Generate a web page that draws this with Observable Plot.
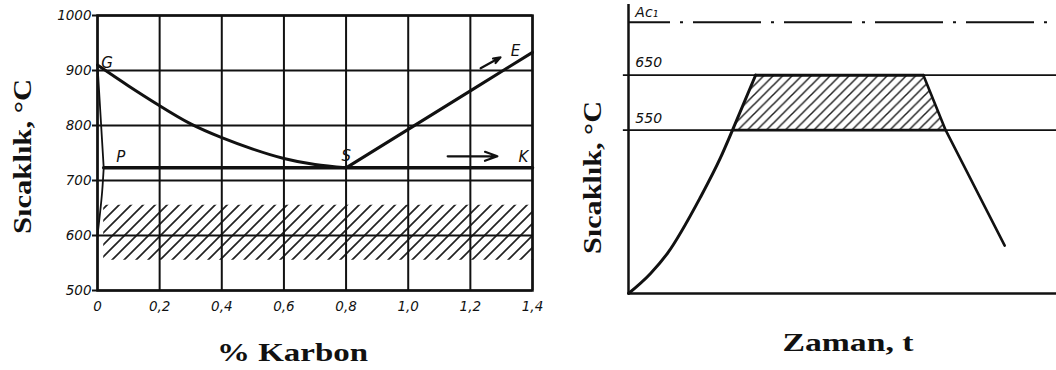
<!DOCTYPE html>
<html><head><meta charset="utf-8">
<script src="https://cdn.jsdelivr.net/npm/d3@7"></script>
<script src="https://cdn.jsdelivr.net/npm/@observablehq/plot@0.6"></script>
<style>
body{margin:0;background:#fff;}
#wrap{display:flex;width:1056px;height:370px;overflow:hidden;background:#fff;}
</style></head><body><div id="wrap"></div>
<script>
// ---------- Left chart: Fe–C diagram (steel part) ----------
const carbonTicks = [0, 0.2, 0.4, 0.6, 0.8, 1.0, 1.2, 1.4];
const carbonTickLabels = ["0", "0,2", "0,4", "0,6", "0,8", "1,0", "1,2", "1,4"];
const tempTicks = [500, 600, 700, 800, 900, 1000];
const gsCarbon = [0, 0.1, 0.2, 0.3, 0.4, 0.5, 0.6, 0.7, 0.8];
const gsTemp = [910, 872, 836, 803, 778, 757, 740, 729, 723];
const seCarbon = [0.8, 1.0, 1.2, 1.4];
const seTemp = [723, 793, 863, 933];
const gpCarbon = [0, 0.02];
const gpTemp = [910, 723];
const pqCarbon = [0.02, 0.015, 0.008, 0];
const pqTemp = [723, 680, 640, 600];
const pskCarbon = [0.02, 1.4];
const pskTemp = [723, 723];
const bandCarbon = [0.02, 1.4];
const bandTemp = [555, 655];
const pointLabels = ["G", "P", "S", "K", "E"];
const pointCarbon = [0.012, 0.06, 0.785, 1.355, 1.33];
const pointTemp = [914, 742, 745, 742, 936];
const arrowCarbon1 = [1.127, 1.233];
const arrowTemp1 = [744, 904];
const arrowCarbon2 = [1.287, 1.297];
const arrowTemp2 = [744, 924];

// ---------- Right chart: tempering cycle ----------
const timeHeat = [0, 0.51, 0.91, 1.68, 2.15, 2.43, 2.97];
const tempHeat = [253, 289, 326, 428, 500, 550, 650];
const timeHold = [2.97, 6.89];
const tempHold = [650, 650];
const timeCool = [6.89, 7.41, 8.79];
const tempCool = [650, 550, 340];
const levelTemps = [650, 550];
const ac1Temp = 746;
const levelLabels = ["Ac₁", "650", "550"];
const levelLabelTemp = [764, 673, 571];
const hatchTemp = [550, 650];
const hatchTime1 = [2.43, 2.97];
const hatchTime2 = [7.41, 6.89];

const ink = "#111";
const tickFont = {fontFamily: "DejaVu Sans", fontStyle: "italic", fontSize: 13.5};
const titleFont = {fontFamily: "Liberation Serif", fontWeight: "bold", fontSize: 25, fill: ink};

const zip = (xs, ys) => xs.map((x, i) => ({x, y: ys[i]}));

// ---- left plot
const left = Plot.plot({
  width: 545, height: 370,
  marginLeft: 97, marginRight: 13, marginTop: 15, marginBottom: 80,
  style: {background: "#fff", color: ink},
  x: {domain: [0, 1.4]},
  y: {domain: [500, 1000]},
  marks: [
    Plot.rect([{x1: bandCarbon[0], x2: bandCarbon[1], y1: bandTemp[0], y2: bandTemp[1]}],
      {x1: "x1", x2: "x2", y1: "y1", y2: "y2", fill: "url(#hatchL)"}),
    Plot.gridX(carbonTicks, {stroke: ink, strokeOpacity: 1, strokeWidth: 2}),
    Plot.gridY(tempTicks, {stroke: ink, strokeOpacity: 1, strokeWidth: 2}),
    Plot.frame({stroke: ink, strokeWidth: 2.5}),
    Plot.line(zip(pskCarbon, pskTemp), {x: "x", y: "y", stroke: ink, strokeWidth: 3.5}),
    Plot.line(zip(gsCarbon, gsTemp), {x: "x", y: "y", stroke: ink, strokeWidth: 3, curve: "natural"}),
    Plot.line(zip(seCarbon, seTemp), {x: "x", y: "y", stroke: ink, strokeWidth: 3}),
    Plot.line(zip(gpCarbon, gpTemp), {x: "x", y: "y", stroke: ink, strokeWidth: 1.8}),
    Plot.line(zip(pqCarbon, pqTemp), {x: "x", y: "y", stroke: ink, strokeWidth: 1.8, curve: "natural"}),
    Plot.arrow(arrowCarbon1.map((c, i) => ({x1: c, y1: arrowTemp1[i], x2: arrowCarbon2[i], y2: arrowTemp2[i]})),
      {x1: "x1", y1: "y1", x2: "x2", y2: "y2", stroke: ink, strokeWidth: 2.2, headLength: 9, headAngle: 40}),
    Plot.text(pointLabels.map((t, i) => ({t, x: pointCarbon[i], y: pointTemp[i]})),
      {x: "x", y: "y", text: "t", textAnchor: "start", fill: ink, ...tickFont, fontSize: 15}),
    Plot.axisX(carbonTicks, {tickSize: 0, tickPadding: 11, tickFormat: d => carbonTickLabels[carbonTicks.indexOf(d)], fill: ink, ...tickFont}),
    Plot.axisY(tempTicks, {tickSize: 5, tickPadding: 1, tickFormat: d => String(d), stroke: ink, strokeWidth: 2, fill: ink, ...tickFont}),
    Plot.text(["Sıcaklık, °C"], {frameAnchor: "left", text: d => d, rotate: -90, dx: -75, dy: 81, textAnchor: "start", lineAnchor: "middle", ...titleFont}),
    Plot.text(["% Karbon"], {frameAnchor: "bottom", text: d => d, dx: -22.5, dy: 62, lineAnchor: "middle", ...titleFont})
  ]
});

// ---- right plot
const right = Plot.plot({
  width: 511, height: 370,
  marginLeft: 83, marginRight: 0, marginTop: 4, marginBottom: 77,
  style: {background: "#fff", color: ink, overflow: "visible"},
  x: {domain: [0, 10], axis: null},
  y: {domain: [253, 778.5], axis: null},
  marks: [
    Plot.areaX(hatchTemp.map((T, i) => ({T, a: hatchTime1[i], b: hatchTime2[i]})),
      {y: "T", x1: "a", x2: "b", fill: "url(#hatchR)"}),
    Plot.ruleY(levelTemps.map(T => ({T, a: -0.12, b: 10})), {y: "T", x1: "a", x2: "b", stroke: ink, strokeWidth: 1.6}),
    Plot.ruleY([{T: ac1Temp, a: 0, b: 10}], {y: "T", x1: "a", x2: "b", stroke: ink, strokeWidth: 2,
      strokeDasharray: "68,10,3,10", strokeDashoffset: 26}),
    Plot.ruleX([0], {stroke: ink, strokeWidth: 2.5}),
    Plot.ruleY([253], {stroke: ink, strokeWidth: 2.5}),
    Plot.line(zip(timeHeat, tempHeat), {x: "x", y: "y", stroke: ink, strokeWidth: 3, curve: "monotone-x"}),
    Plot.line(zip(timeHold, tempHold), {x: "x", y: "y", stroke: ink, strokeWidth: 3}),
    Plot.line(zip(timeCool, tempCool), {x: "x", y: "y", stroke: ink, strokeWidth: 2.6}),
    Plot.ruleY([{T: 550, a: hatchTime1[0], b: hatchTime2[0]}], {y: "T", x1: "a", x2: "b", stroke: ink, strokeWidth: 2.8}),
    Plot.text(levelLabels.map((t, i) => ({t, T: levelLabelTemp[i]})),
      {x: () => 0.16, y: "T", text: "t", textAnchor: "start", fill: ink, ...tickFont, fontSize: 14}),
    Plot.text(["Sıcaklık, °C"], {frameAnchor: "left", text: d => d, rotate: -90, dx: -36, dy: 105, textAnchor: "start", lineAnchor: "middle", ...titleFont}),
    Plot.text(["Zaman, t"], {frameAnchor: "bottom", text: d => d, dx: 5.5, dy: 49.5, lineAnchor: "middle", ...titleFont})
  ]
});

function addHatch(svg, id, size, sw) {
  const defs = d3.select(svg).insert("defs", ":first-child");
  const p = defs.append("pattern").attr("id", id).attr("patternUnits", "userSpaceOnUse")
    .attr("width", size).attr("height", size);
  p.append("path").attr("d", `M0,${size} L${size},0 M${-size/4},${size/4} L${size/4},${-size/4} M${size*3/4},${size*5/4} L${size*5/4},${size*3/4}`)
    .attr("stroke", "#222").attr("stroke-width", sw).attr("fill", "none");
}
addHatch(left, "hatchL", 12, 1.7);
addHatch(right, "hatchR", 9.5, 1.5);

function stretch(svg, txt, len) {
  d3.select(svg).selectAll("text").filter(function () { return this.textContent === txt; })
    .attr("textLength", len).attr("lengthAdjust", "spacingAndGlyphs");
}
stretch(left, "Sıcaklık, °C", 155);
stretch(left, "% Karbon", 151);
stretch(right, "Sıcaklık, °C", 153);
stretch(right, "Zaman, t", 131);

const wrap = document.getElementById("wrap");
wrap.append(left, right);
</script></body></html>
